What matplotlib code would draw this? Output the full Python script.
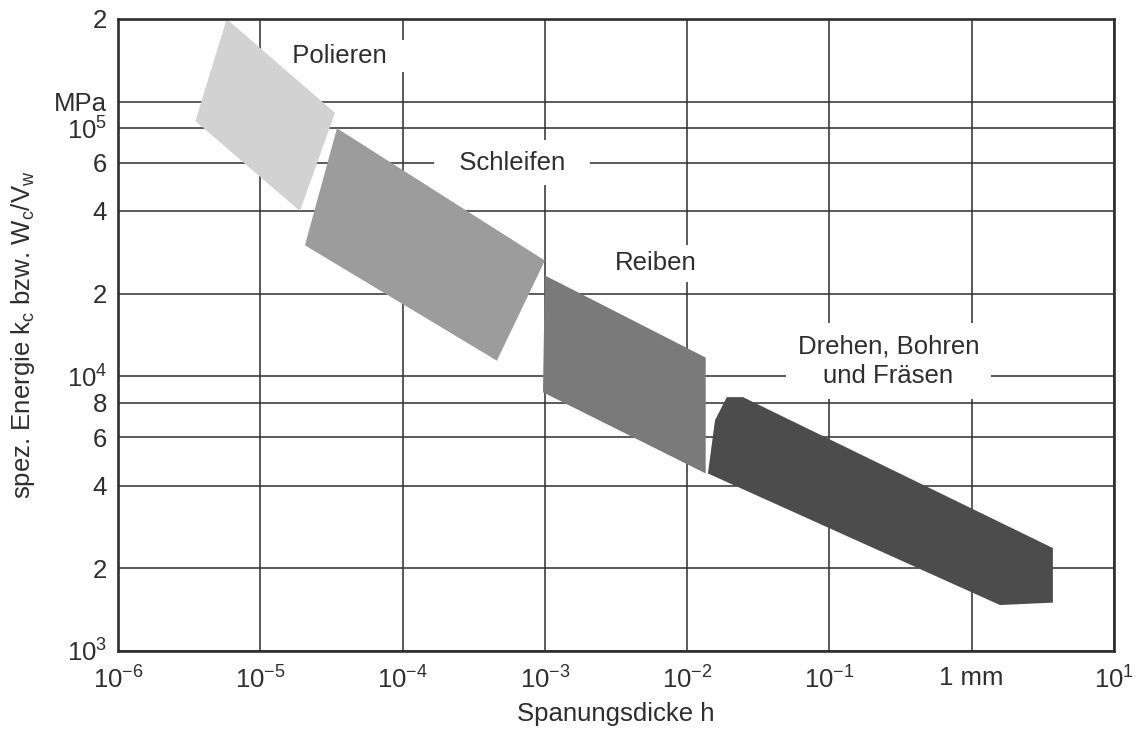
import matplotlib
matplotlib.use("Agg")
import matplotlib.pyplot as plt
from matplotlib.patches import Polygon

plt.rcParams['font.family'] = ['Liberation Sans', 'DejaVu Sans']
plt.rcParams['mathtext.fontset'] = 'custom'
plt.rcParams['mathtext.rm'] = 'Liberation Sans'
plt.rcParams['mathtext.it'] = 'Liberation Sans'
plt.rcParams['mathtext.bf'] = 'Liberation Sans:bold'

# Process regions: outline vertices (chip thickness h in mm, specific energy in MPa)
polieren_h = [5.8e-6, 3.35e-5, 1.9e-5, 3.5e-6]
polieren_k = [2.0e5, 9.1e4, 4.0e4, 8.5e4]

schleifen_h = [3.46e-5, 1.0e-3, 4.6e-4, 2.06e-5]
schleifen_k = [8.0e4, 2.64e4, 1.14e4, 3.0e4]

reiben_h = [1.0e-3, 1.35e-2, 1.35e-2, 9.7e-4]
reiben_k = [2.33e4, 1.17e4, 4.43e3, 8.75e3]

drehen_h = [1.9e-2, 2.47e-2, 3.72, 3.72, 1.58, 1.4e-2, 1.57e-2]
drehen_k = [8.4e3, 8.4e3, 2.37e3, 1.5e3, 1.47e3, 4.43e3, 6.92e3]

region_colors = ['#d2d2d2', '#9c9c9c', '#7a7a7a', '#4c4c4c']

# Axis ticks and labels
x_ticks = [1e-6, 1e-5, 1e-4, 1e-3, 1e-2, 1e-1, 1, 10]
x_labels = [r'$\mathregular{10^{-6}}$', r'$\mathregular{10^{-5}}$',
            r'$\mathregular{10^{-4}}$', r'$\mathregular{10^{-3}}$',
            r'$\mathregular{10^{-2}}$', r'$\mathregular{10^{-1}}$',
            '1 mm', r'$\mathregular{10^{1}}$']
y_ticks = [1e3, 2e3, 4e3, 6e3, 8e3, 1e4, 2e4, 4e4, 6e4, 8e4, 1e5, 2e5]
y_labels = [r'$\mathregular{10^{3}}$', '2', '4', '6', '8',
            r'$\mathregular{10^{4}}$', '2', '4', '6',
            r'$\mathregular{10^{5}}$', 'MPa', '2']

region_names = ['Polieren', 'Schleifen', 'Reiben', 'Drehen, Bohren\nund Fräsen']
name_pos = [(3.6e-5, 1.47e5), (5.9e-4, 6.0e4), (6.0e-3, 2.58e4), (2.6e-1, 1.135e4)]

FS = 18.5
ink = '#2e2e2e'

fig = plt.figure(figsize=(11.42, 7.33), dpi=100)
ax = fig.add_axes([118 / 1142, 1 - 651 / 733, 996 / 1142, 632 / 733])
ax.set_xscale('log')
ax.set_yscale('log')
ax.set_xlim(1e-6, 10)
ax.set_ylim(1e3, 2e5)

ax.set_xticks(x_ticks)
ax.set_xticklabels(x_labels)
ax.set_yticks(y_ticks)
ax.set_yticklabels(y_labels)
ax.minorticks_off()
ax.tick_params(axis='x', length=0, pad=11, labelsize=FS, colors=ink)
ax.tick_params(axis='y', length=0, pad=8, labelsize=FS, colors=ink)
ax.grid(True, which='major', color=ink, linewidth=1.1, zorder=0)
ax.set_axisbelow(True)

for sp in ax.spines.values():
    sp.set_linewidth(1.9)
    sp.set_color(ink)
    sp.set_zorder(5)

# Region labels sit on white boxes that interrupt the grid
pads = [0.15, 0.42, 0.25, 0.46]
side_space = ['  ', '  ', '', '']
for name, (px, py), pd, sp_ in zip(region_names, name_pos, pads, side_space):
    ax.text(px, py, sp_ + name + sp_, ha='center', va='center', fontsize=FS,
            color=ink, linespacing=1.25, zorder=1,
            bbox=dict(boxstyle=f'square,pad={pd}', facecolor='white',
                      edgecolor='none'))

for hs, ks, col in zip([polieren_h, schleifen_h, reiben_h, drehen_h],
                       [polieren_k, schleifen_k, reiben_k, drehen_k],
                       region_colors):
    ax.add_patch(Polygon(list(zip(hs, ks)), closed=True, facecolor=col,
                         edgecolor='none', zorder=2))

ax.set_xlabel('Spanungsdicke h', fontsize=FS, color=ink, labelpad=6)
ax.set_ylabel(r'spez. Energie k$\mathregular{_c}$ bzw. W$\mathregular{_c}$/V$\mathregular{_w}$',
              fontsize=FS, color=ink)
ax.yaxis.set_label_coords(-0.081, 0.5)

fig.savefig('out.png', dpi=100, facecolor='white')
